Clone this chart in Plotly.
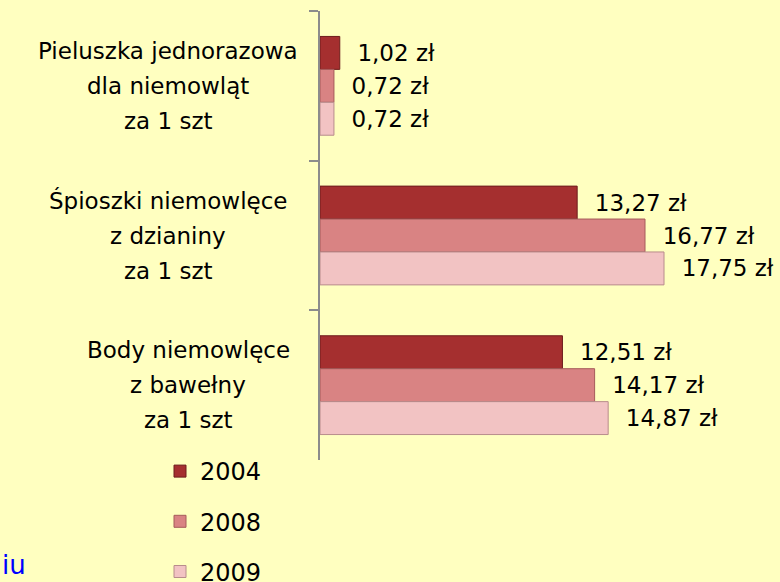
import plotly.graph_objects as go

categories = ["Pieluszka jednorazowa", "Śpioszki niemowlęce", "Body niemowlęce"]
category_lines = [
    ["Pieluszka jednorazowa", "dla niemowląt", "za 1 szt"],
    ["Śpioszki niemowlęce", "z dzianiny", "za 1 szt"],
    ["Body niemowlęce", "z bawełny", "za 1 szt"],
]
series_names = ["2004", "2008", "2009"]
values_2004 = [1.02, 13.27, 12.51]
values_2008 = [0.72, 16.77, 14.17]
values_2009 = [0.72, 17.75, 14.87]
series_values = [values_2004, values_2008, values_2009]

colors = ["#A52F2F", "#D98383", "#F2C3C3"]
line_colors = ["#6E1C1C", "#A65A5A", "#B88C8C"]

FONT = "DejaVu Sans"
W, H = 780, 582
ML, MR, MT, MB = 320, 0, 11, 122
plot_w = W - ML - MR
plot_h = H - MT - MB
px_per_unit = 19.38
xmax = plot_w / px_per_unit

def fmt(v):
    return "\u00a0\u00a0" + f"{v:.2f}".replace(".", ",") + " zł"

fig = go.Figure()
for name, vals, c, lc in zip(series_names, series_values, colors, line_colors):
    fig.add_trace(go.Bar(
        y=categories, x=vals, name=name, orientation="h",
        marker=dict(color=c, line=dict(color=lc, width=1)),
        text=[fmt(v) for v in vals], textposition="outside",
        textfont=dict(size=23, color="black", family=FONT),
        cliponaxis=False, constraintext="none",
        legendgroup=name,
    ))

# category label annotations (centered lines, block right-aligned)
block_centers_px = [168, 168, 188]
annotations = []
for cat, lines, cx in zip(categories, category_lines, block_centers_px):
    for i, ln in enumerate(lines):
        annotations.append(dict(
            x=(cx - ML) / plot_w, xref="paper", y=cat, yref="y",
            text=ln, showarrow=False, xanchor="center", yanchor="middle",
            yshift=35 - 35 * i,
            font=dict(size=23, color="black", family=FONT),
        ))
annotations.append(dict(
    x=(0 - ML) / plot_w, xref="paper", y=(MT + plot_h - 565) / plot_h,
    yref="paper", text="iu", showarrow=False, xanchor="left", yanchor="middle",
    font=dict(size=26, color="#0000FF", family=FONT),
))

fig.update_layout(
    width=W, height=H,
    margin=dict(l=ML, r=MR, t=MT, b=MB),
    paper_bgcolor="#FFFFC0", plot_bgcolor="#FFFFC0",
    barmode="group", bargap=0.34, bargroupgap=0,
    font=dict(family=FONT, size=20, color="black"),
    showlegend=True,
    legend=dict(
        orientation="v", xref="container", yref="container",
        x=160 / W, y=1 - 449 / H, xanchor="left", yanchor="top",
        bgcolor="rgba(0,0,0,0)", font=dict(size=24, family=FONT),
        tracegroupgap=16,
    ),
    annotations=annotations,
)
fig.update_xaxes(visible=False, range=[0, xmax])
fig.update_yaxes(
    type="category", categoryorder="array", categoryarray=categories,
    range=[2.5, -0.5], showticklabels=False, showgrid=False,
    showline=True, linecolor="#8C8C8C", linewidth=2,
    ticks="outside", tickson="boundaries", ticklen=9, tickcolor="#8C8C8C", tickwidth=2,
    zeroline=False,
)
fig.write_html("out.html", config={"displayModeBar": False},
               post_script="document.body.style.margin='0';document.body.style.overflow='hidden';")
